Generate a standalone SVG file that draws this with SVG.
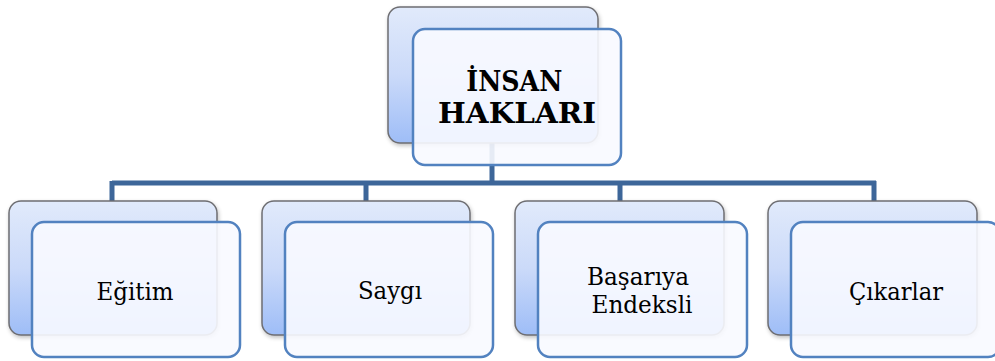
<svg xmlns="http://www.w3.org/2000/svg" width="995" height="361" viewBox="0 0 995 361">
  <defs>
    <linearGradient id="backFill" x1="0" y1="0" x2="0" y2="1">
      <stop offset="0" stop-color="#e1eafb"/>
      <stop offset="0.5" stop-color="#cbdaf9"/>
      <stop offset="1" stop-color="#9ebdf7"/>
    </linearGradient>
    <filter id="soft" x="-10%" y="-10%" width="125%" height="125%">
      <feGaussianBlur in="SourceAlpha" stdDeviation="2"/>
      <feOffset dx="1" dy="2" result="b"/>
      <feComponentTransfer><feFuncA type="linear" slope="0.25"/></feComponentTransfer>
      <feMerge><feMergeNode/><feMergeNode in="SourceGraphic"/></feMerge>
    </filter>
  </defs>
  <style>
    .back { fill: url(#backFill); stroke: #6e6e72; stroke-width: 1.5; filter: url(#soft); }
    .front { fill: #f8faff; fill-opacity: 0.9; stroke: #5282c0; stroke-width: 2.5; }
    .wire { fill: none; stroke: #3d6699; stroke-width: 5; }
    text { font-family: "DejaVu Serif", "Liberation Serif", serif; fill: #000; text-anchor: middle; }
    .title { font-weight: bold; font-size: 27px; }
    .label { font-size: 25px; }
  </style>

  <!-- connectors -->
  <g id="connectors">
    <path class="wire" d="M492 143 V183 M112 183 H876 M112 181 V201 M366 181 V201 M620 181 V201 M874 181 V201"/>
  </g>

  <g id="root">
    <rect class="back" x="388" y="7" width="210" height="136" rx="12"/>
    <rect class="front" x="413" y="29" width="208" height="136" rx="12"/>
    <text class="title">
      <tspan x="519" y="91" textLength="96" lengthAdjust="spacingAndGlyphs">İNSAN</tspan>
      <tspan x="517" y="123" textLength="158" lengthAdjust="spacingAndGlyphs">HAKLARI</tspan>
    </text>
  </g>

  <g id="egitim">
    <rect class="back" x="9" y="201" width="208" height="134" rx="12"/>
    <rect class="front" x="32" y="222" width="208" height="135" rx="12"/>
    <text class="label" x="135" y="300" textLength="77" lengthAdjust="spacingAndGlyphs">Eğitim</text>
  </g>

  <g id="saygi">
    <rect class="back" x="262" y="201" width="208" height="134" rx="12"/>
    <rect class="front" x="285" y="222" width="208" height="135" rx="12"/>
    <text class="label" x="390" y="299" textLength="64" lengthAdjust="spacingAndGlyphs">Saygı</text>
  </g>

  <g id="basariya">
    <rect class="back" x="515" y="201" width="209" height="134" rx="12"/>
    <rect class="front" x="538" y="222" width="209" height="135" rx="12"/>
    <text class="label">
      <tspan x="642" y="285" textLength="102" lengthAdjust="spacingAndGlyphs">Başarıya</tspan>
      <tspan x="642" y="313" textLength="101" lengthAdjust="spacingAndGlyphs">Endeksli</tspan>
    </text>
  </g>

  <g id="cikarlar">
    <rect class="back" x="768" y="201" width="209" height="134" rx="12"/>
    <rect class="front" x="791" y="222" width="209" height="135" rx="12"/>
    <text class="label" x="896" y="300" textLength="94" lengthAdjust="spacingAndGlyphs">Çıkarlar</text>
  </g>
</svg>
